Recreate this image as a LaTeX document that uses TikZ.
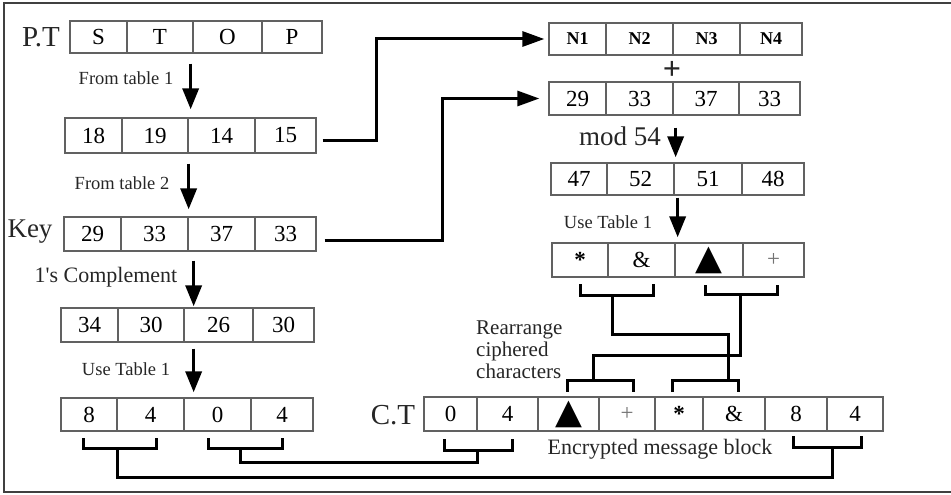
\documentclass[tikz,border=0pt]{standalone}
\usepackage{fontspec}
\setmainfont{Liberation Serif}
\newfontfamily\symfont{DejaVu Sans}
\usetikzlibrary{arrows.meta}
\newcommand\mycell[6]{%
  \pgfmathsetmacro\cw{#3-#2}\pgfmathsetmacro\ch{#5-#4}%
  \node[cell, minimum width=\cw pt, minimum height=\ch pt] (#1) at ({(#2+#3)/2},{(#4+#5)/2}) {#6};}
\newcommand\blacktri{\raisebox{-1pt}{\symfont\fontsize{35}{35}\selectfont ▲}}
\newcommand\astsym{\raisebox{-0.17em}{\textbf{*}}}
\newcommand\plussym{\textcolor{black!55}{+}}
\newcommand\nlab[1]{{\fontsize{18}{20}\selectfont\bfseries #1}}
\begin{document}
\begin{tikzpicture}[x=1pt,y=-1pt,
  cell/.style={draw=black!62, line width=1.3pt, inner sep=0pt, text=black, font=\fontsize{23}{26}\selectfont},
  frame/.style={draw=black!75, line width=1.5pt},
  varr/.style={line width=3.5pt, -{Triangle[length=21pt,width=16pt]}},
  harr/.style={line width=3pt, -{Triangle[length=22pt,width=15pt]}},
  brk/.style={line width=3pt, line cap=rect, line join=miter},
  lbl/.style={inner sep=0pt, text=black!85},
  ]
\useasboundingbox (0,0) rectangle (951,495);
\draw[frame] (951,3) -- (4,3) -- (4,492) -- (951,492);

% left column
\mycell{pta}{70}{127}{21}{53}{S}
\mycell{ptb}{127}{193}{21}{53}{T}
\mycell{ptc}{193}{262}{21}{53}{O}
\mycell{ptd}{262}{322}{21}{53}{P}

\mycell{ra}{65}{122}{118}{153}{18}
\mycell{rb}{122}{188}{118}{153}{19}
\mycell{rc}{188}{255}{118}{153}{14}
\mycell{rd}{255}{316}{118}{153}{15}

\mycell{ka}{64}{121}{217}{251}{29}
\mycell{kb}{121}{188}{217}{251}{33}
\mycell{kc}{188}{255}{217}{251}{37}
\mycell{kd}{255}{316}{217}{251}{33}

\mycell{ca}{61}{118}{308}{342}{34}
\mycell{cb}{118}{184}{308}{342}{30}
\mycell{cc}{184}{253}{308}{342}{26}
\mycell{cd}{253}{314}{308}{342}{30}

\mycell{ua}{61}{117}{398}{431}{8}
\mycell{ub}{117}{184}{398}{431}{4}
\mycell{uc}{184}{251}{398}{431}{0}
\mycell{ud}{251}{313}{398}{431}{4}

% right column
\mycell{na}{549}{606}{23}{55}{\nlab{N1}}
\mycell{nb}{606}{673}{23}{55}{\nlab{N2}}
\mycell{nc}{673}{740}{23}{55}{\nlab{N3}}
\mycell{nd}{740}{802}{23}{55}{\nlab{N4}}

\mycell{sa}{549}{606}{82}{115}{29}
\mycell{sb}{606}{673}{82}{115}{33}
\mycell{sc}{673}{739}{82}{115}{37}
\mycell{sd}{739}{800}{82}{115}{33}

\mycell{ma}{551}{607}{163}{195}{47}
\mycell{mb}{607}{674}{163}{195}{52}
\mycell{mc}{674}{742}{163}{195}{51}
\mycell{md}{742}{804}{163}{195}{48}

\mycell{ya}{552}{608}{243}{277}{\astsym}
\mycell{yb}{608}{675}{243}{277}{\&}
\mycell{yc}{675}{743}{243}{277}{\blacktri}
\mycell{yd}{743}{804}{243}{277}{\plussym}

% cipher text row
\mycell{ta}{424}{477}{397}{431}{0}
\mycell{tb}{477}{538}{397}{431}{4}
\mycell{tc}{538}{599}{397}{431}{\blacktri}
\mycell{td}{599}{655}{397}{431}{\plussym}
\mycell{te}{655}{703}{397}{431}{\astsym}
\mycell{tf}{703}{765}{397}{431}{\&}
\mycell{tg}{765}{827}{397}{431}{8}
\mycell{th}{827}{883}{397}{431}{4}

% labels
\node[lbl, font=\fontsize{29}{32}\selectfont] (lpt) at (41,37) {P.T};
\node[lbl, font=\fontsize{27}{30}\selectfont] (lkey) at (30,232) {Key};
\node[lbl, font=\fontsize{29}{32}\selectfont] (lct) at (393,415) {C.T};
\node[lbl, font=\fontsize{18.5}{21}\selectfont] (lft1) at (126,78) {From table 1};
\node[lbl, font=\fontsize{18.5}{21}\selectfont] (lft2) at (122,183) {From table 2};
\node[lbl, font=\fontsize{22}{25}\selectfont] (lcomp) at (106,277) {1\textquotesingle s Complement};
\node[lbl, font=\fontsize{18.5}{21}\selectfont] (lut1) at (126,369) {Use Table 1};
\node[lbl, font=\fontsize{18.5}{21}\selectfont] (lut2) at (608,222) {Use Table 1};
\node[lbl, font=\fontsize{27}{30}\selectfont] (lmod) at (620,136) {mod 54};
\node[lbl, font=\fontsize{32}{34}\selectfont\bfseries] (lplus) at (672,70) {+};
\node[lbl, font=\fontsize{21}{22}\selectfont, align=left, anchor=west] (lrea) at (476,350) {Rearrange\\ciphered\\characters};
\node[lbl, font=\fontsize{22}{25}\selectfont] (lenc) at (660,449) {Encrypted message block};

% vertical arrows
\coordinate (a1) at ([xshift=-3pt]ptb.south east);
\draw[varr, shorten <=10pt, shorten >=8pt] (a1) -- (a1 |- rc.north);
\coordinate (a2) at (rb.south east);
\draw[varr, shorten <=10pt, shorten >=7pt] (a2) -- (a2 |- kc.north);
\coordinate (a3) at ([xshift=5pt]kb.south east);
\draw[varr, shorten <=9pt, shorten >=1pt] (a3) -- (a3 |- cc.north);
\coordinate (a4) at ([xshift=9pt]cb.south east);
\draw[varr, shorten <=6pt, shorten >=5pt] (a4) -- (a4 |- uc.north);
\coordinate (a5) at ([xshift=2pt]sb.south east);
\draw[varr, shorten <=12pt, shorten >=5pt] (a5) -- (a5 |- mc.north);
\coordinate (a6) at ([xshift=3pt]mb.south east);
\draw[varr, shorten <=2pt, shorten >=5pt] (a6) -- (a6 |- yc.north);

% connectors to the right column
\draw[harr, shorten >=4pt] ([xshift=6pt,yshift=-5pt]rd.east) -- ++(54,0) |- (na.west);
\draw[harr, shorten >=9pt] ([xshift=8pt,yshift=-6pt]kd.east) -- ++(118,0) |- (sa.west);

% brackets
\draw[brk] (83,439) -- (83,448) -- (156,448) -- (156,439);
\draw[brk] (208,439) -- (208,448) -- (282,448) -- (282,439);
\draw[brk] (444,440) -- (444,450) -- (512,450) -- (512,440);
\draw[brk] (793,437) -- (793,447) -- (861,447) -- (861,437);
\draw[brk] (580,285) -- (580,295) -- (653,295) -- (653,285);
\draw[brk] (705,286) -- (705,294) -- (777,294) -- (777,286);
\draw[brk] (567,390) -- (567,380) -- (633,380) -- (633,390);
\draw[brk] (672,390) -- (672,380) -- (738,380) -- (738,390);

\coordinate (b1) at (117,448);
\coordinate (b2) at (240,448);
\coordinate (b3) at (477,450);
\coordinate (b4) at (832,447);
\coordinate (b5) at (612,295);
\coordinate (b6) at (740,294);
\coordinate (b7) at (593,380);
\coordinate (b8) at (728,380);
\draw[brk] (b1) -- ++(0,29) -| (b4);
\draw[brk] (b2) -- ++(0,14) -| (b3);
\draw[brk] (b5) -- ++(0,39) -| (b8);
\draw[brk] (b6) -- ++(0,61) -| (b7);
\end{tikzpicture}
\end{document}
